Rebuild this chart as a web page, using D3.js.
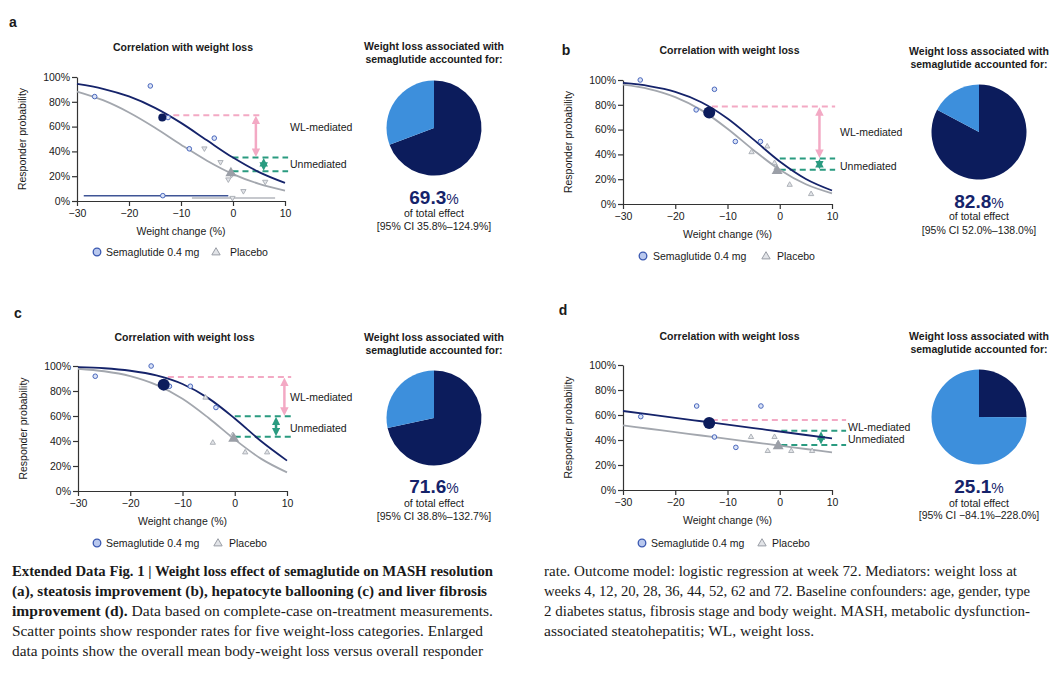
<!DOCTYPE html>
<html>
<head>
<meta charset="utf-8">
<script src="https://cdn.jsdelivr.net/npm/d3@7"></script>
<style>
  body { margin: 0; background: #fff; }
  svg text { font-family: "Liberation Sans", Arial, sans-serif; fill: #1a1a1a; }
  .caption text { font-family: "Liberation Serif", "Times New Roman", serif; }
</style>
</head>
<body>
<div id="container"></div>
<script>
const WIDTH = 1064;
const HEIGHT = 684;

const X_TICKS = [-30, -20, -10, 0, 10];
const Y_TICKS = [0, 20, 40, 60, 80, 100];
const CURVE_X = [-30, -25, -20, -15, -10, -5, 0, 5, 10];

// a - MASH resolution
const semaPtsA = [[-26.6, 84.2], [-15.9, 92.8], [-12.5, 67.3], [-8.4, 42.1], [-3.6, 50.7]];
const placeboPtsA = [[-5.5, 42.4], [-2.4, 31.4], [-0.9, 17.4], [-0.3, 21.0], [2.0, 8.0], [6.2, 15.5]];
const semaMeanA = [-13.6, 67.3];
const placeboMeanA = [-0.4, 22.5];
const semaCurveA = [94.4, 90.5, 84.3, 75.1, 63.0, 48.9, 35.0, 23.3, 14.6];
const placeboCurveA = [88.3, 81.3, 71.4, 59.1, 45.4, 32.5, 21.7, 13.8, 8.4];
const semaBarA = [-28.7, -13.5, -0.9, 4.3];   // low, point, high, y
const placeboBarA = [-7.9, -0.1, 8.1, 2.5];
const levelsA = [69.2, 35.1, 23.9];          // pink, green top, green bottom
const shareA = [69.3, 30.7];
const ciA = "[95% CI 35.8%–124.9%]";

// b - steatosis improvement
const semaPtsB = [[-26.7, 100.0], [-12.5, 92.5], [-16.0, 75.9], [-8.5, 50.4], [-3.7, 50.4]];
const placeboPtsB = [[-2.4, 46.4], [-5.4, 41.8], [-1.0, 33.0], [-0.6, 29.0], [1.9, 15.5], [6.0, 8.0]];
const semaMeanB = [-13.5, 73.7];
const placeboMeanB = [-0.5, 26.8];
const semaCurveB = [97.6, 95.1, 90.5, 82.1, 69.0, 51.9, 34.3, 20.2, 10.9];
const placeboCurveB = [96.2, 92.7, 86.2, 75.7, 60.7, 43.4, 27.6, 15.9, 8.6];
const levelsB = [78.6, 36.7, 27.6];
const shareB = [82.8, 17.2];
const ciB = "[95% CI 52.0%–138.0%]";

// c - hepatocyte ballooning
const semaPtsC = [[-26.7, 91.8], [-16.0, 100.0], [-12.5, 83.8], [-8.5, 83.8], [-3.6, 66.8]];
const placeboPtsC = [[-5.6, 74.7], [-4.2, 38.6], [-0.4, 44.7], [2.0, 30.9], [6.2, 30.9]];
const semaMeanC = [-13.6, 85.1];
const placeboMeanC = [-0.2, 42.0];
const semaCurveC = [99.1, 98.2, 96.2, 92.5, 85.6, 74.1, 58.0, 40.0, 24.3];
const placeboCurveC = [97.8, 95.8, 91.9, 84.9, 73.8, 58.4, 41.2, 25.9, 14.9];
const levelsC = [91.2, 59.8, 43.4];
const shareC = [71.6, 28.4];
const ciC = "[95% CI 38.8%–132.7%]";

// d - liver fibrosis improvement
const semaPtsD = [[-26.6, 58.7], [-15.9, 67.2], [-12.5, 42.4], [-8.4, 34.1], [-3.6, 67.2]];
const placeboPtsD = [[-5.5, 42.4], [-2.3, 31.2], [-1.0, 42.4], [-0.3, 37.3], [2.2, 31.2], [6.2, 31.2]];
const semaMeanD = [-13.5, 53.6];
const placeboMeanD = [-0.3, 35.2];
const semaCurveD = [63.2, 60.5, 57.7, 55.0, 52.3, 49.5, 46.8, 44.0, 41.3];
const placeboCurveD = [51.7, 49.0, 46.3, 43.6, 40.9, 38.2, 35.5, 32.8, 30.1];
const levelsD = [56.0, 47.4, 36.0];
const shareD = [25.1, 74.9];
const ciD = "[95% CI −84.1%–228.0%]";

const captionLeft = [
  [["Extended Data Fig. 1 | Weight loss effect of semaglutide on MASH resolution", true]],
  [["(a), steatosis improvement (b), hepatocyte ballooning (c) and liver fibrosis", true]],
  [["improvement (d).", true], [" Data based on complete-case on-treatment measurements.", false]],
  [["Scatter points show responder rates for five weight-loss categories. Enlarged", false]],
  [["data points show the overall mean body-weight loss versus overall responder", false]],
];
const captionRight = [
  "rate. Outcome model: logistic regression at week 72. Mediators: weight loss at",
  "weeks 4, 12, 20, 28, 36, 44, 52, 62 and 72. Baseline confounders: age, gender, type",
  "2 diabetes status, fibrosis stage and body weight. MASH, metabolic dysfunction-",
  "associated steatohepatitis; WL, weight loss.",
];

const NAVY = "#15236a";
const PIE_DARK = "#0c1c5c";
const PIE_LIGHT = "#3d8fdc";
const GREY = "#a3a7ae";
const PINK = "#f3a9c4";
const GREEN = "#2a9b80";

const panels = [
  {
    letter: "a", lx: 13, ly: 22, x0: 77, x1: 285, yTop: 77, yBot: 201, titleY: 47, yTitleX: 22,
    sema: semaPtsA, placebo: placeboPtsA, semaMean: semaMeanA, placeboMean: placeboMeanA,
    semaCurve: semaCurveA, placeboCurve: placeboCurveA, bars: [semaBarA, placeboBarA],
    levels: levelsA, downTri: true,
    pinkFrom: -13.4, pinkTo: 5.8, greenFrom: -0.1, greenTo: 10.6, pinkArrow: 4.4, greenArrow: 5.9,
    labelX: 290, wlY: 127, unY: 164,
    legY: 252, legC: 97, legT1: 106, legTri: 216, legT2: 230,
    pieX: 434, pieY: 128, pieTitleY: 46, pctY: 198, effY: 213, ciY: 226,
    share: shareA, ci: ciA,
  },
  {
    letter: "b", lx: 566, ly: 50, x0: 623, x1: 832, yTop: 80, yBot: 204, titleY: 50, yTitleX: 568,
    sema: semaPtsB, placebo: placeboPtsB, semaMean: semaMeanB, placeboMean: placeboMeanB,
    semaCurve: semaCurveB, placeboCurve: placeboCurveB, bars: [],
    levels: levelsB, downTri: false,
    pinkFrom: -13.0, pinkTo: 10.6, greenFrom: 0, greenTo: 10.6, pinkArrow: 7.6, greenArrow: 7.6,
    labelX: 840, wlY: 132, unY: 166,
    legY: 256, legC: 643, legT1: 653, legTri: 766, legT2: 777,
    pieX: 979, pieY: 132, pieTitleY: 51, pctY: 202, effY: 216, ciY: 230,
    share: shareB, ci: ciB,
  },
  {
    letter: "c", lx: 18, ly: 313, x0: 78, x1: 287, yTop: 366, yBot: 491, titleY: 337, yTitleX: 23,
    sema: semaPtsC, placebo: placeboPtsC, semaMean: semaMeanC, placeboMean: placeboMeanC,
    semaCurve: semaCurveC, placeboCurve: placeboCurveC, bars: [],
    levels: levelsC, downTri: false,
    pinkFrom: -12.8, pinkTo: 10.8, greenFrom: 0, greenTo: 10.8, pinkArrow: 9.5, greenArrow: 7.9,
    labelX: 290, wlY: 397, unY: 428,
    legY: 543, legC: 97, legT1: 106, legTri: 218, legT2: 229,
    pieX: 434, pieY: 418, pieTitleY: 337, pctY: 487, effY: 503, ciY: 516,
    share: shareC, ci: ciC,
  },
  {
    letter: "d", lx: 563, ly: 310, x0: 623, x1: 832, yTop: 365, yBot: 490, titleY: 336, yTitleX: 568,
    sema: semaPtsD, placebo: placeboPtsD, semaMean: semaMeanD, placeboMean: placeboMeanD,
    semaCurve: semaCurveD, placeboCurve: placeboCurveD, bars: [],
    levels: levelsD, downTri: false,
    pinkFrom: -13.0, pinkTo: 12.7, greenFrom: 0.3, greenTo: 12.7, pinkArrow: null, greenArrow: 7.9,
    labelX: 848, wlY: 427, unY: 439,
    legY: 543, legC: 642, legT1: 651, legTri: 762, legT2: 772,
    pieX: 979, pieY: 417, pieTitleY: 336, pctY: 487, effY: 503, ciY: 515,
    share: shareD, ci: ciD,
  },
];

const svg = d3
  .select("#container")
  .append("svg")
  .attr("width", WIDTH)
  .attr("height", HEIGHT);

const defs = svg.append("defs");
[["pink", PINK], ["green", GREEN]].forEach(([name, color]) => {
  defs
    .append("marker")
    .attr("id", `arrow-${name}`)
    .attr("viewBox", "0 0 10 10")
    .attr("refX", 6)
    .attr("refY", 5)
    .attr("markerWidth", 3.4)
    .attr("markerHeight", 3.4)
    .attr("orient", "auto-start-reverse")
    .append("path")
    .attr("d", "M0,0 L10,5 L0,10 Z")
    .attr("fill", color);
});

const triangle = (size) => d3.symbol(d3.symbolTriangle, size)();

function drawPanel(p) {
  const g = svg.append("g");
  const x = d3.scaleLinear().domain([-30, 10]).range([p.x0, p.x1]);
  const y = d3.scaleLinear().domain([0, 100]).range([p.yBot, p.yTop]);
  const midX = (p.x0 + p.x1) / 2;

  g.append("text")
    .attr("x", p.lx).attr("y", p.ly).attr("dy", "0.35em")
    .attr("text-anchor", "middle")
    .style("font-size", "14px").style("font-weight", "bold")
    .text(p.letter);

  g.append("text")
    .attr("x", midX + 2).attr("y", p.titleY).attr("dy", "0.35em")
    .attr("text-anchor", "middle")
    .style("font-size", "10.5px").style("font-weight", "bold")
    .text("Correlation with weight loss");

  // axes
  const yAxis = d3.axisLeft(y).tickValues(Y_TICKS).tickFormat((d) => d + "%")
    .tickSize(5).tickSizeOuter(0).tickPadding(2);
  const xAxis = d3.axisBottom(x).tickValues(X_TICKS).tickFormat((d) => (d < 0 ? "−" + -d : d))
    .tickSize(5).tickSizeOuter(0).tickPadding(4);

  g.append("g").attr("transform", `translate(${p.x0},0)`).call(yAxis);
  g.append("g").attr("transform", `translate(0,${p.yBot})`).call(xAxis);
  g.selectAll(".domain, .tick line").attr("stroke", "#333").attr("stroke-width", 1.2);
  g.selectAll(".tick text").style("font-size", "10.5px").attr("fill", "#222");

  g.append("text")
    .attr("x", midX).attr("y", p.yBot + 30).attr("dy", "0.35em")
    .attr("text-anchor", "middle").style("font-size", "10.5px")
    .text("Weight change (%)");

  g.append("text")
    .attr("transform", `translate(${p.yTitleX},${(p.yTop + p.yBot) / 2}) rotate(-90)`)
    .attr("dy", "0.35em")
    .attr("text-anchor", "middle").style("font-size", "10.5px")
    .text("Responder probability");

  // mediation guides
  const dash = (x1, x2, lev, color) =>
    g.append("line")
      .attr("x1", x(x1)).attr("x2", x(x2)).attr("y1", y(lev)).attr("y2", y(lev))
      .attr("stroke", color).attr("stroke-width", 2).attr("stroke-dasharray", "6,4");
  dash(p.pinkFrom, p.pinkTo, p.levels[0], PINK);
  dash(p.greenFrom, p.greenTo, p.levels[1], GREEN);
  dash(p.greenFrom, p.greenTo, p.levels[2], GREEN);

  const arrow = (ax, top, bottom, color, name) =>
    g.append("line")
      .attr("x1", x(ax)).attr("x2", x(ax))
      .attr("y1", y(top) + 4).attr("y2", y(bottom) - 4)
      .attr("stroke", color).attr("stroke-width", 2.5)
      .attr("marker-start", `url(#arrow-${name})`)
      .attr("marker-end", `url(#arrow-${name})`);
  if (p.pinkArrow !== null) arrow(p.pinkArrow, p.levels[0], p.levels[1], PINK, "pink");
  arrow(p.greenArrow, p.levels[1], p.levels[2], GREEN, "green");

  g.append("text").attr("x", p.labelX).attr("y", p.wlY).attr("dy", "0.35em")
    .style("font-size", "10.5px").text("WL-mediated");
  g.append("text").attr("x", p.labelX).attr("y", p.unY).attr("dy", "0.35em")
    .style("font-size", "10.5px").text("Unmediated");

  // fitted curves
  const line = d3.line().x((d) => x(d[0])).y((d) => y(d[1])).curve(d3.curveMonotoneX);
  g.append("path")
    .datum(CURVE_X.map((v, i) => [v, p.placeboCurve[i]]))
    .attr("d", line).attr("fill", "none").attr("stroke", GREY).attr("stroke-width", 1.8);
  g.append("path")
    .datum(CURVE_X.map((v, i) => [v, p.semaCurve[i]]))
    .attr("d", line).attr("fill", "none").attr("stroke", NAVY).attr("stroke-width", 1.8);

  // horizontal bars (panel a only)
  p.bars.forEach((b, i) => {
    g.append("line")
      .attr("x1", x(b[0])).attr("x2", x(b[2])).attr("y1", y(b[3])).attr("y2", y(b[3]))
      .attr("stroke", i === 0 ? "#3f5596" : "#b3b6bc").attr("stroke-width", 1.5);
  });

  // scatter
  const triRot = p.downTri ? " rotate(180)" : "";
  const placeboPts = p.placebo.concat(p.bars.length ? [[p.bars[1][1], p.bars[1][3]]] : []);
  g.selectAll(".pl")
    .data(placeboPts)
    .enter()
    .append("path")
    .attr("d", triangle(12))
    .attr("transform", (d) => `translate(${x(d[0])},${y(d[1])})${triRot}`)
    .attr("fill", "#e2e4e8").attr("stroke", "#a7abb2").attr("stroke-width", 0.9);

  const semaPts = p.sema.concat(p.bars.length ? [[p.bars[0][1], p.bars[0][3]]] : []);
  g.selectAll(".se")
    .data(semaPts)
    .enter()
    .append("circle")
    .attr("cx", (d) => x(d[0])).attr("cy", (d) => y(d[1])).attr("r", 2.3)
    .attr("fill", "#dbe3f6").attr("stroke", "#4a68bd").attr("stroke-width", 1);

  g.append("path")
    .attr("d", triangle(52))
    .attr("transform", `translate(${x(p.placeboMean[0])},${y(p.placeboMean[1])})`)
    .attr("fill", "#9b9fa7");
  g.append("circle")
    .attr("cx", x(p.semaMean[0])).attr("cy", y(p.semaMean[1])).attr("r", p.downTri ? 4 : 6)
    .attr("fill", PIE_DARK);

  // legend
  g.append("circle").attr("cx", p.legC).attr("cy", p.legY).attr("r", 3.8)
    .attr("fill", "#b9c8ee").attr("stroke", "#3a58b0").attr("stroke-width", 1.3);
  g.append("text").attr("x", p.legT1).attr("y", p.legY).attr("dy", "0.35em")
    .style("font-size", "10.5px").text("Semaglutide 0.4 mg");
  g.append("path").attr("d", triangle(30))
    .attr("transform", `translate(${p.legTri},${p.legY + 0.5})`)
    .attr("fill", "#e2e4e8").attr("stroke", "#9a9ea6").attr("stroke-width", 1);
  g.append("text").attr("x", p.legT2).attr("y", p.legY).attr("dy", "0.35em")
    .style("font-size", "10.5px").text("Placebo");

  // pie
  const pieTitle = ["Weight loss associated with", "semaglutide accounted for:"];
  pieTitle.forEach((t, i) => {
    g.append("text").attr("x", p.pieX).attr("y", p.pieTitleY + i * 13.5).attr("dy", "0.35em")
      .attr("text-anchor", "middle").style("font-size", "10.5px").style("font-weight", "bold")
      .text(t);
  });
  const pie = d3.pie().sort(null).value((d) => d);
  const arc = d3.arc().innerRadius(0).outerRadius(47.5);
  g.append("g")
    .attr("transform", `translate(${p.pieX},${p.pieY})`)
    .selectAll("path")
    .data(pie(p.share))
    .enter()
    .append("path")
    .attr("d", arc)
    .attr("fill", (d, i) => (i === 0 ? PIE_DARK : PIE_LIGHT));

  const pct = g.append("text").attr("x", p.pieX).attr("y", p.pctY).attr("dy", "0.35em")
    .attr("text-anchor", "middle");
  pct.append("tspan").style("font-size", "19px").style("font-weight", "bold")
    .attr("fill", NAVY).text(p.share[0].toFixed(1));
  pct.append("tspan").style("font-size", "14px").attr("fill", NAVY).text("%");

  g.append("text").attr("x", p.pieX).attr("y", p.effY).attr("dy", "0.35em")
    .attr("text-anchor", "middle").style("font-size", "10.5px").text("of total effect");
  g.append("text").attr("x", p.pieX).attr("y", p.ciY).attr("dy", "0.35em")
    .attr("text-anchor", "middle").style("font-size", "10.5px").text(p.ci);
}

panels.forEach(drawPanel);

// caption
const cap = svg.append("g").attr("class", "caption");
const LEFT_WIDTHS = [481, 475, 481, 471, 471];
captionLeft.forEach((parts, i) => {
  const t = cap.append("text")
    .attr("x", 12).attr("y", 576 + i * 20)
    .attr("textLength", LEFT_WIDTHS[i]).attr("lengthAdjust", "spacingAndGlyphs")
    .style("font-size", "15.5px");
  parts.forEach(([s, bold]) => {
    t.append("tspan").style("font-weight", bold ? "bold" : "normal").text(s);
  });
});
const RIGHT_WIDTHS = [473, 486, 486, null];
captionRight.forEach((s, i) => {
  const t = cap.append("text")
    .attr("x", 544).attr("y", 576 + i * 20)
    .style("font-size", "15.5px")
    .text(s);
  if (RIGHT_WIDTHS[i]) t.attr("textLength", RIGHT_WIDTHS[i]).attr("lengthAdjust", "spacingAndGlyphs");
});
</script>
</body>
</html>
